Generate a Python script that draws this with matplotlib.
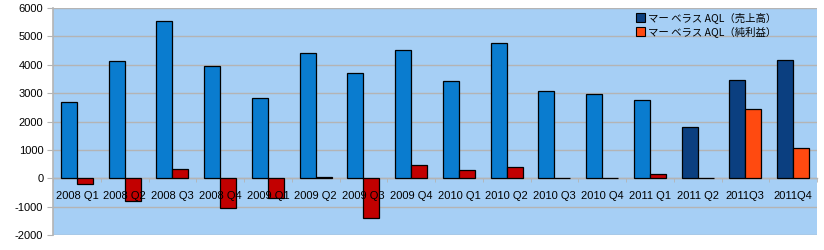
import matplotlib
matplotlib.use("Agg")
import matplotlib.pyplot as plt
import numpy as np
from matplotlib.patches import Patch

categories = ["2008 Q1", "2008 Q2", "2008 Q3", "2008 Q4", "2009 Q1", "2009 Q2",
              "2009 Q3", "2009 Q4", "2010 Q1", "2010 Q2", "2010 Q3", "2010 Q4",
              "2011 Q1", "2011 Q2", "2011Q3", "2011Q4"]
sales = [2680, 4130, 5540, 3950, 2820, 4410, 3710, 4520, 3430, 4760, 3070, 2960,
         2760, 1810, 3460, 4160]
profit = [-210, -790, 320, -1040, -710, 30, -1390, 470, 280, 390, 10, 10,
          150, 10, 2430, 1060]
yticks = [-2000, -1000, 0, 1000, 2000, 3000, 4000, 5000, 6000]
legend_labels = ["マー ベラス AQL（売上高）", "マー ベラス AQL（純利益）"]

old_blue = "#0a7ccf"
old_red = "#c20000"
new_blue = "#0b3f80"
new_orange = "#ff4a10"
sales_colors = [old_blue] * 13 + [new_blue] * 3
profit_colors = [old_red] * 14 + [new_orange] * 2

plt.rcParams['font.family'] = ['Liberation Sans', 'Noto Sans CJK JP', 'DejaVu Sans']

fig = plt.figure(figsize=(8.24, 2.5), dpi=100)
fig.patch.set_facecolor("white")
ax = fig.add_axes([53 / 824, 15 / 250, (817 - 53) / 824, (235 - 8) / 250])
ax.set_facecolor("#a6cff5")

x = np.arange(len(categories))
w = 0.335
ax.bar(x - w / 2, sales, w, color=sales_colors, edgecolor="black", linewidth=0.9, zorder=3)
ax.bar(x + w / 2, profit, w, color=profit_colors, edgecolor="black", linewidth=0.9, zorder=3)

ax.set_xlim(-0.5, len(categories) - 0.5)
ax.set_ylim(-2000, 6000)
ax.set_yticks(yticks)
ax.set_yticklabels([str(v) for v in yticks], fontsize=8, color="black")
for yv in yticks:
    ax.axhline(yv, color="#b4b4b4", linewidth=1.0, zorder=1)
ax.tick_params(axis="y", length=4, color="#b4b4b4", pad=3)

for s in ["top", "right"]:
    ax.spines[s].set_visible(False)
ax.spines["left"].set_color("#b4b4b4")
ax.spines["left"].set_linewidth(1.2)
ax.spines["bottom"].set_position(("data", 0))
ax.spines["bottom"].set_color("#b4b4b4")
ax.spines["bottom"].set_linewidth(1.0)
ax.spines["bottom"].set_zorder(2)

ax.set_xticks(x)
ax.set_xticklabels(categories, fontsize=8)
ax.set_xticks(np.arange(len(categories) + 1) - 0.5, minor=True)
ax.tick_params(axis="x", which="major", length=0, pad=9)
ax.tick_params(axis="x", which="minor", length=3, color="#b4b4b4", direction="out")
ax.xaxis.set_zorder(5)

handles = [Patch(facecolor=new_blue, edgecolor="black", linewidth=0.8),
           Patch(facecolor=new_orange, edgecolor="black", linewidth=0.8)]
leg = ax.legend(handles, legend_labels, loc="upper right", bbox_to_anchor=(0.955, 1.01),
                frameon=False, handlelength=0.9, handleheight=0.9,
                handletextpad=0.3, labelspacing=0.3, borderaxespad=0.2,
                prop={'family': ['Noto Sans CJK JP', 'DejaVu Sans'], 'size': 7.5})
leg.set_zorder(6)

fig.savefig("out.png", dpi=100, facecolor="white")
